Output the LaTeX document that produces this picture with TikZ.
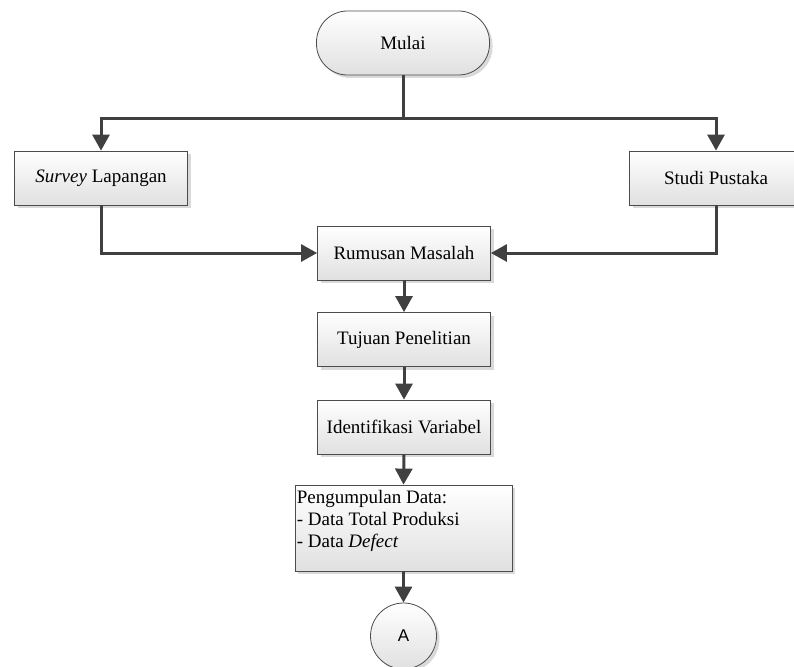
\documentclass[tikz,border=0pt]{standalone}
\usepackage{fontspec}
\setmainfont{Liberation Serif}
\newfontfamily\sansA{Liberation Sans}
\usetikzlibrary{arrows.meta,shadows}
\definecolor{edge}{HTML}{404040}
\begin{document}
\begin{tikzpicture}[x=1pt,y=-1pt,
  shade/.style={top color=white, bottom color=black!12,
    drop shadow={shadow xshift=3pt, shadow yshift=-3pt, fill=black!15, opacity=1}},
  box/.style={shade, draw=black!70, line width=0.8pt, minimum width=173pt, minimum height=54pt,
    inner sep=0pt, font=\fontsize{19}{22}\selectfont},
  term/.style={box, rounded corners=31pt, minimum height=64pt},
  conn/.style={draw=edge, line width=3pt, -{Triangle[length=16pt,width=17pt]}},
  plain/.style={draw=edge, line width=3pt}]
\useasboundingbox (0,0) rectangle (794,666);
\node[term] (mulai) at (403,43) {Mulai};
\node[box] (survey) at (101,178) {\textit{Survey} Lapangan};
\node[box] (studi) at (716,178) {Studi Pustaka};
\node[box] (rumusan) at (404,253) {Rumusan Masalah};
\node[box] (tujuan) at (404,339.5) {Tujuan Penelitian};
\node[box] (ident) at (404,427) {Identifikasi Variabel};
\node[box, minimum width=217pt, minimum height=86pt] (kumpul) at (403.5,528) {};
\node[anchor=north west, align=left, inner sep=0pt, font=\fontsize{19}{22}\selectfont]
  (kumpultxt) at ([xshift=2pt,yshift=-6pt]kumpul.north west)
  {Pengumpulan Data:\\- Data Total Produksi\\- Data \textit{Defect}};
\node[circle, shade, draw=black!70, line width=0.8pt, minimum size=66pt, inner sep=0pt,
  font=\sansA\fontsize{17}{20}\selectfont] (A) at (403.5,636) {A};
\coordinate (split) at (403,118);
\draw[plain] (mulai.south) -- (split);
\draw[conn] (split) -| (survey.north);
\draw[conn] (split) -| (studi.north);
\draw[conn] (survey.south) |- (rumusan.west);
\draw[conn] (studi.south) |- (rumusan.east);
\draw[conn] (rumusan.south) -- (tujuan.north);
\draw[conn] (tujuan.south) -- (ident.north);
\draw[conn] (ident.south) -- (kumpul.north);
\draw[conn] (kumpul.south) -- (A.north);
\end{tikzpicture}
\end{document}
